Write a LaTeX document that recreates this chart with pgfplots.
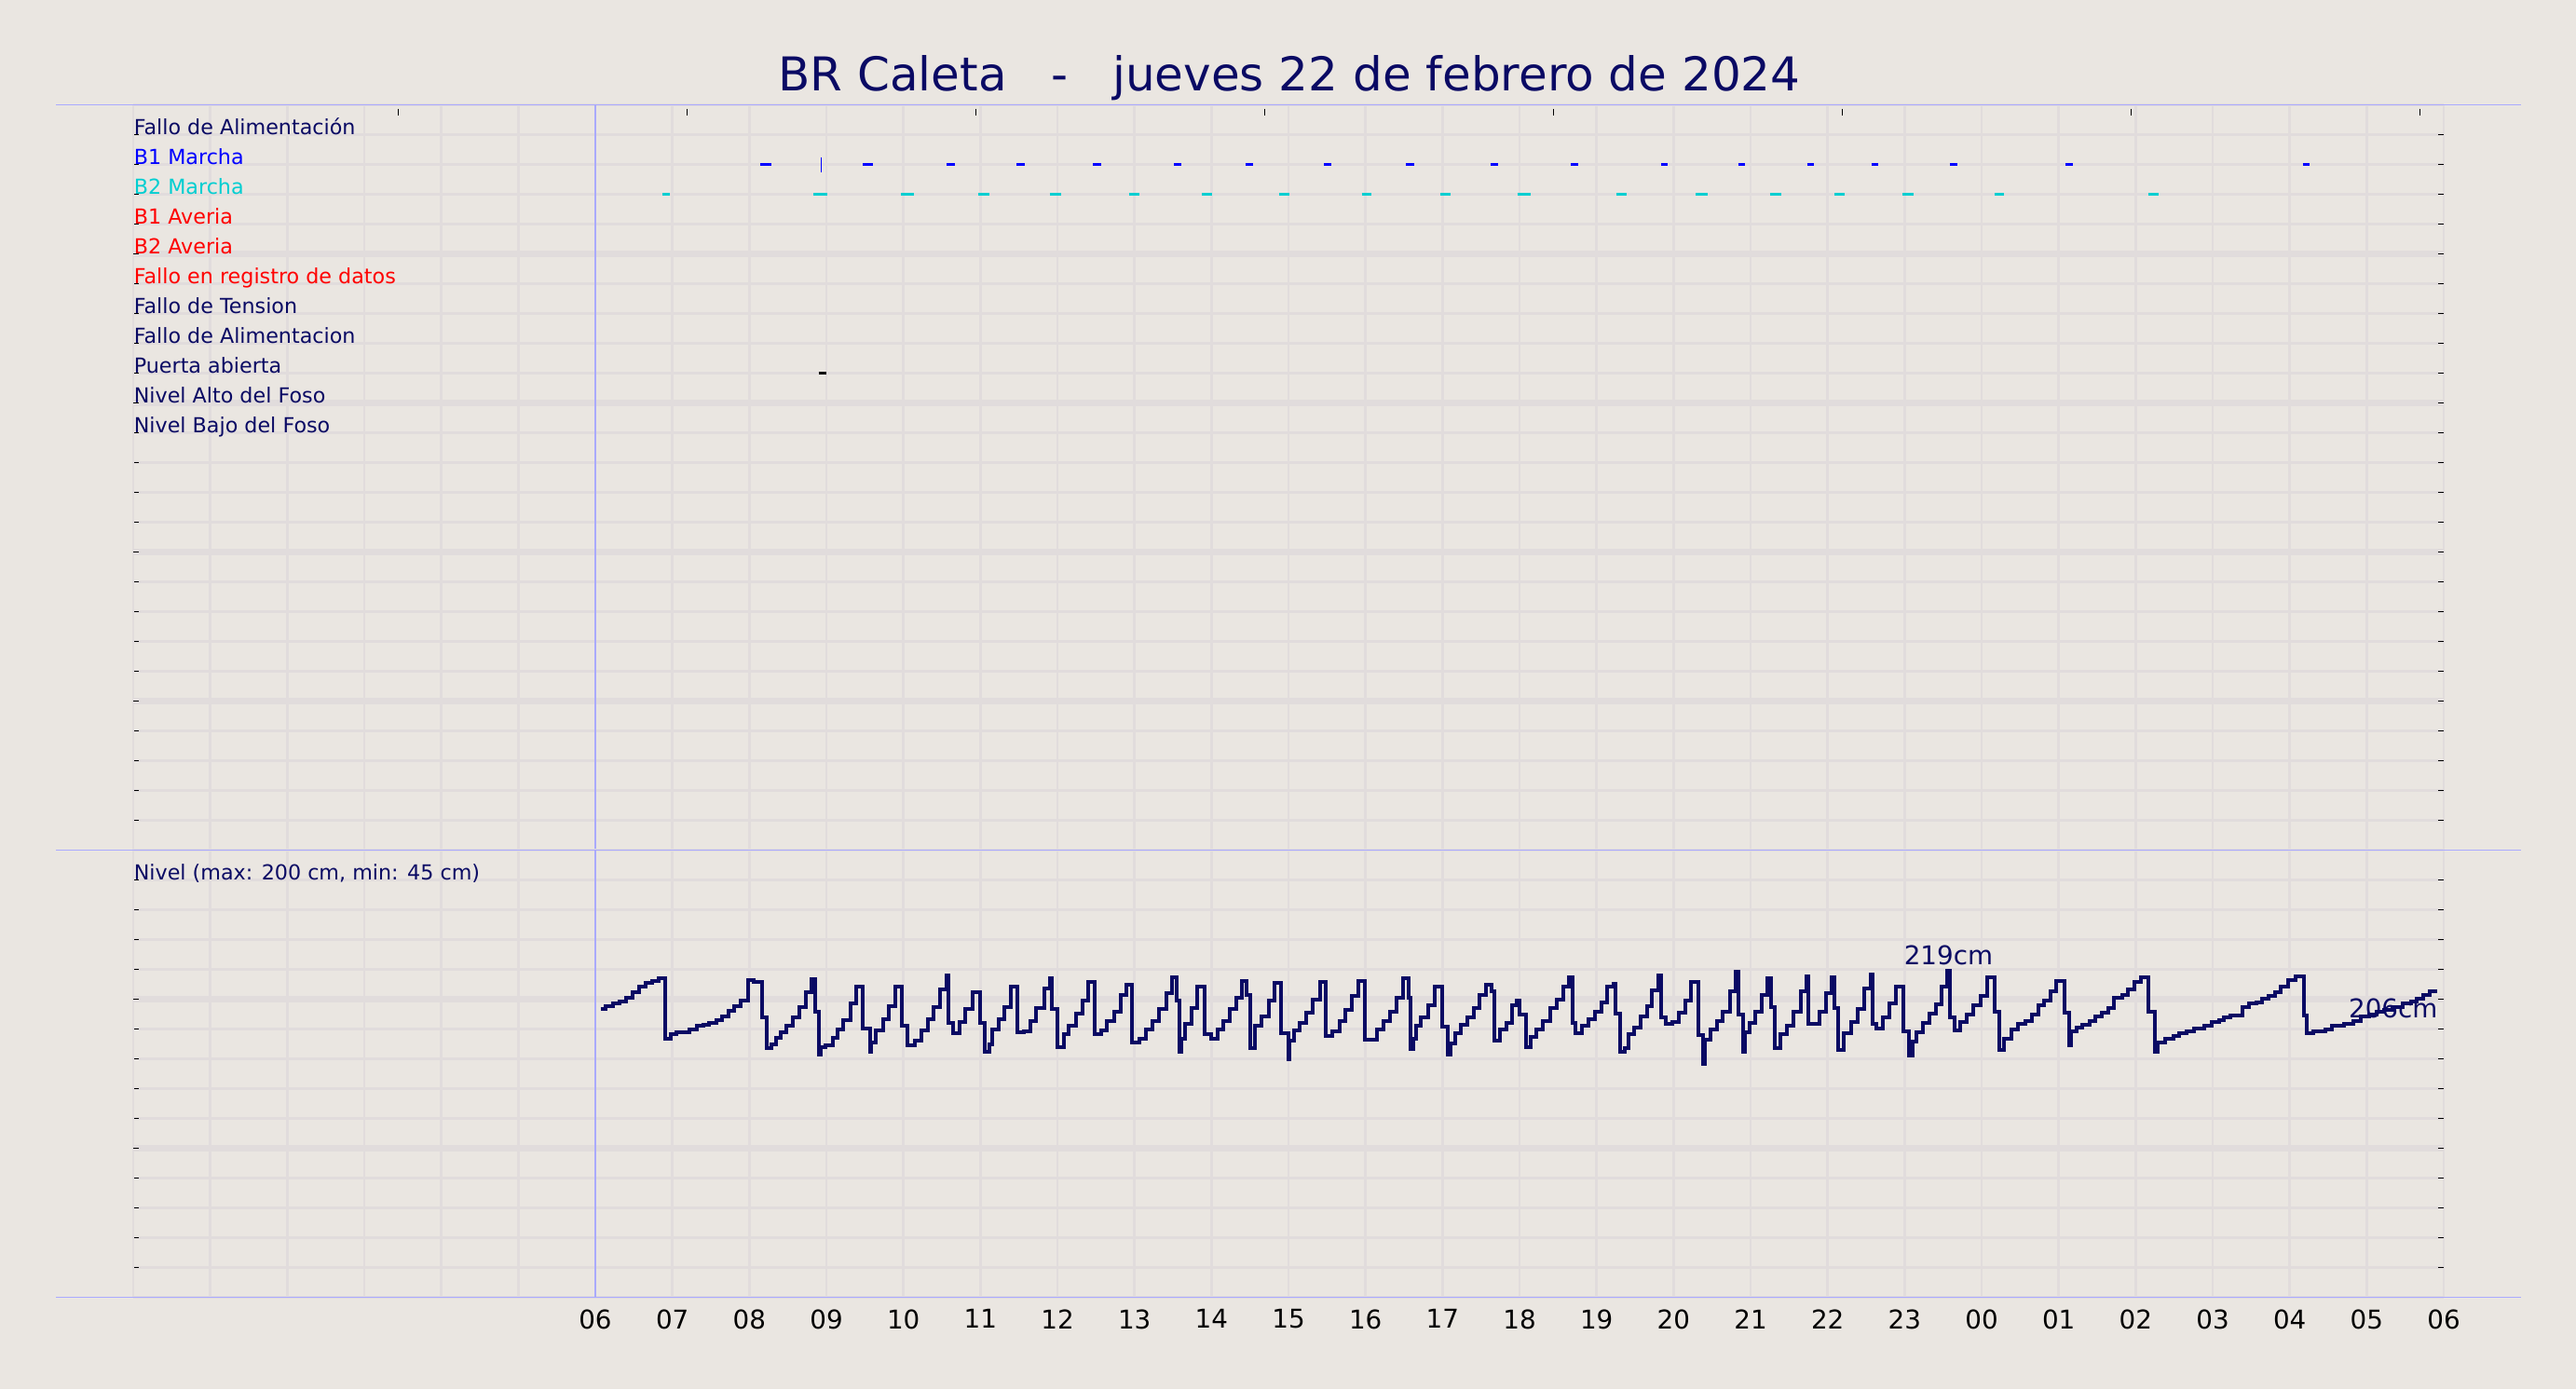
\documentclass[border=0pt]{standalone}
\usepackage{fontspec}
\setmainfont{DejaVu Sans}
\usepackage{pgfplots}
\pgfplotsset{compat=1.18}
\definecolor{bgc}{RGB}{234,230,225}
\definecolor{gridc}{RGB}{225,220,220}
\definecolor{navyc}{RGB}{10,10,100}
\definecolor{bluec}{RGB}{0,0,255}
\definecolor{cyanc}{RGB}{0,206,209}
\definecolor{redc}{RGB}{255,0,0}
\definecolor{bluel}{RGB}{170,170,255}
\newcommand{\tickf}{\fontsize{6.94pt}{8pt}\selectfont}
\newcommand{\labf}{\fontsize{5.56pt}{6.5pt}\selectfont}
\begin{document}
\begin{tikzpicture}
\path[use as bounding box, fill=bgc] (0,0) rectangle (691.25pt,372.75pt);
\node[anchor=base, text=navyc, font=\fontsize{12.5pt}{15pt}\selectfont, inner sep=0pt] at (346pt,348.25pt) {BR Caleta\ \ \ -\ \ \ jueves 22 de febrero de 2024};

\pgfplotsset{common/.style={
  scale only axis, width=620pt, xmin=-6, xmax=24,
  axis line style={draw=none},
  tick align=inside, major tick length=1.4pt,
  xtick style={draw=none},
  ytick style={black, line width=0.35pt},
  grid=major, major grid style={gridc, line width=0.7pt},
  clip=false,
  xtick={0,...,24},
  extra x ticks={-6,-5,-4,-3,-2,-1}, extra x tick labels={},
  extra x tick style={grid=major},
  yticklabels={},
}}

% ---------------- top panel (events) ----------------
\begin{axis}[common, at={(35.75pt,144.625pt)}, anchor=south west, height=200pt,
  ymin=0, ymax=25, ytick={0,...,25}, xticklabels={},
  extra y ticks={5,10,15,20}, extra y tick labels={},
  extra y tick style={grid=major, major grid style={gridc, line width=1.7pt}}]

% B1 Marcha
\addplot[bluec, line width=0.75pt, unbounded coords=jump] coordinates {
(2.145,23) (2.284,23) (2.3,nan)
(3.472,23) (3.603,23) (3.7,nan)
(4.560,23) (4.668,23) (4.7,nan)
(5.471,23) (5.579,23) (5.6,nan)
(6.460,23) (6.570,23) (6.6,nan)
(7.515,23) (7.608,23) (7.7,nan)
(8.440,23) (8.540,23) (8.6,nan)
(9.460,23) (9.560,23) (9.6,nan)
(10.530,23) (10.630,23) (10.7,nan)
(11.620,23) (11.720,23) (11.8,nan)
(12.663,23) (12.756,23) (12.8,nan)
(13.836,23) (13.928,23) (13.95,nan)
(14.839,23) (14.932,23) (14.95,nan)
(15.734,23) (15.827,23) (15.9,nan)
(16.567,23) (16.660,23) (16.7,nan)
(17.586,23) (17.686,23) (17.7,nan)
(19.083,23) (19.183,23) (19.2,nan)
(22.170,23) (22.254,23)
};
\addplot[bluec, line width=0.3pt, only marks, mark=|, mark size=2pt] coordinates {(2.932,23)};

% B2 Marcha
\addplot[cyanc, line width=0.75pt, unbounded coords=jump] coordinates {
(0.872,22) (0.965,22) (1.0,nan)
(2.832,22) (3.010,22) (3.1,nan)
(3.966,22) (4.136,22) (4.2,nan)
(4.969,22) (5.116,22) (5.2,nan)
(5.903,22) (6.050,22) (6.1,nan)
(6.930,22) (7.070,22) (7.1,nan)
(7.880,22) (8.010,22) (8.1,nan)
(8.880,22) (9.010,22) (9.1,nan)
(9.950,22) (10.080,22) (10.1,nan)
(10.970,22) (11.100,22) (11.2,nan)
(11.970,22) (12.146,22) (12.2,nan)
(13.257,22) (13.388,22) (13.4,nan)
(14.291,22) (14.438,22) (14.5,nan)
(15.248,22) (15.394,22) (15.4,nan)
(16.089,22) (16.220,22) (16.3,nan)
(16.969,22) (17.115,22) (17.2,nan)
(18.165,22) (18.296,22) (18.3,nan)
(20.163,22) (20.294,22)
};

% Puerta abierta
\addplot[black, line width=0.75pt] coordinates {(2.90,16) (3.00,16)};

\pgfplotsinvokeforeach{-2.56,1.19,4.94,8.69,12.44,16.19,19.94,23.69}{
  \draw[black, line width=0.35pt] (axis cs:#1,25) ++(0pt,-1pt) -- ++(0pt,-1.8pt);
}

\node[anchor=base west, inner sep=0pt, text=navyc, font=\labf] at (axis cs:-6,24) {Fallo de Alimentación};
\node[anchor=base west, inner sep=0pt, text=bluec, font=\labf] at (axis cs:-6,23) {B1 Marcha};
\node[anchor=base west, inner sep=0pt, text=cyanc, font=\labf] at (axis cs:-6,22) {B2 Marcha};
\node[anchor=base west, inner sep=0pt, text=redc, font=\labf] at (axis cs:-6,21) {B1 Averia};
\node[anchor=base west, inner sep=0pt, text=redc, font=\labf] at (axis cs:-6,20) {B2 Averia};
\node[anchor=base west, inner sep=0pt, text=redc, font=\labf] at (axis cs:-6,19) {Fallo en registro de datos};
\node[anchor=base west, inner sep=0pt, text=navyc, font=\labf] at (axis cs:-6,18) {Fallo de Tension};
\node[anchor=base west, inner sep=0pt, text=navyc, font=\labf] at (axis cs:-6,17) {Fallo de Alimentacion};
\node[anchor=base west, inner sep=0pt, text=navyc, font=\labf] at (axis cs:-6,16) {Puerta abierta};
\node[anchor=base west, inner sep=0pt, text=navyc, font=\labf] at (axis cs:-6,15) {Nivel Alto del Foso};
\node[anchor=base west, inner sep=0pt, text=navyc, font=\labf] at (axis cs:-6,14) {Nivel Bajo del Foso};

\draw[bluel, line width=0.4pt] (axis cs:-7,25) -- (axis cs:25,25);
\draw[bluel, line width=0.4pt] (axis cs:0,0) -- (axis cs:0,25);
\end{axis}

% ---------------- bottom panel (level) ----------------
\begin{axis}[common, at={(35.75pt,24.625pt)}, anchor=south west, height=120pt,
  ymin=0, ymax=300, ytick={0,20,...,300},
  xticklabels={06,07,08,09,10,11,12,13,14,15,16,17,18,19,20,21,22,23,00,01,02,03,04,05,06},
  xticklabel style={font=\tickf, text=black, anchor=north, inner sep=0pt, yshift=-3.1pt},
  extra y ticks={100,200}, extra y tick labels={},
  extra y tick style={grid=major, major grid style={gridc, line width=1.7pt}}]

\addplot[const plot, navyc, line width=1pt] coordinates {
(0.068,193.2) (0.137,195.5) (0.230,196.9) (0.310,198.4) (0.399,201) (0.483,204.5)
(0.572,208.2) (0.652,210.7) (0.741,212) (0.822,213.8) (0.902,173.6) (0.975,176.7)
(1.055,178) (1.216,179.6) (1.317,182) (1.398,183) (1.478,184) (1.571,186.2)
(1.647,188.2) (1.728,192.4) (1.808,195.3) (1.889,199) (1.981,213) (2.062,211.8)
(2.163,188) (2.223,167.4) (2.284,170) (2.344,174.2) (2.404,178) (2.485,182.5)
(2.565,188) (2.646,194.8) (2.735,205) (2.807,213.4) (2.859,191.8) (2.908,163)
(2.928,168) (2.988,169) (3.089,173.8) (3.141,180) (3.222,186.2) (3.310,196.9)
(3.391,208.7) (3.472,180.4) (3.564,164.5) (3.584,171) (3.645,178.8) (3.733,186.6)
(3.814,195.5) (3.894,208.7) (3.975,182.5) (4.056,169) (4.148,172.2) (4.229,179)
(4.317,186.6) (4.390,194.8) (4.478,206.8) (4.559,215.9) (4.579,184) (4.640,177.3)
(4.732,184.5) (4.801,193.2) (4.901,205) (4.990,184) (5.062,165) (5.115,170)
(5.151,179.4) (5.232,186.6) (5.316,194.8) (5.393,208.7) (5.485,178) (5.566,178.4)
(5.646,185.6) (5.727,194.2) (5.828,207.2) (5.899,214) (5.927,193.2)
(6.000,168) (6.081,176.3) (6.141,182.5) (6.242,190.3) (6.331,199) (6.403,211.3)
(6.484,176.3) (6.565,178.8) (6.645,185.6) (6.738,191.8) (6.827,203.1) (6.895,210)
(6.968,171.1) (7.060,173.2) (7.149,180) (7.238,185.6) (7.319,193.2) (7.411,204.1)
(7.492,214.4) (7.544,199) (7.581,165) (7.613,173.2) (7.653,183.5) (7.742,193.8)
(7.815,208.2) (7.915,176.3) (7.996,173.6) (8.077,179.4) (8.157,185.6) (8.238,193.2)
(8.319,201) (8.399,212.4) (8.460,203.1) (8.508,167) (8.560,182) (8.653,188.7)
(8.742,199) (8.815,210.7) (8.903,177.3) (8.996,159.8) (9.016,172.2) (9.077,178.8)
(9.145,184.1) (9.234,191.1) (9.319,200) (9.407,211.3) (9.488,175.3) (9.569,178.4)
(9.661,185.6) (9.742,192.8) (9.823,202) (9.903,212) (9.992,172.6) (10.145,179.4)
(10.234,185.2) (10.323,191.8) (10.403,201) (10.484,214) (10.565,201) (10.589,166.4)
(10.617,173.2) (10.657,182.5) (10.718,187.6) (10.819,195.9) (10.899,208.7) (10.992,181.4)
(11.073,162.9) (11.101,170.1) (11.161,176.9) (11.242,182.9) (11.323,188) (11.403,193.8)
(11.484,203.1) (11.565,209.7) (11.637,205.2) (11.677,172.2) (11.746,179.8) (11.827,184.1)
(11.907,195.9) (11.968,199) (12.000,189.7) (12.081,168) (12.141,174.6) (12.222,180)
(12.302,185.6) (12.395,193.8) (12.484,199.4) (12.565,208.2) (12.637,214.4) (12.685,184.1)
(12.726,177.3) (12.806,182.5) (12.899,186.6) (12.980,191.8) (13.060,197.9) (13.141,208.2)
(13.222,210.3) (13.250,190.3) (13.310,164.5) (13.371,167) (13.411,176.3) (13.492,180.8)
(13.573,188.2) (13.653,195.3) (13.722,206.2) (13.802,215.9) (13.843,188) (13.895,183.5)
(13.988,184.5) (14.069,191.1) (14.149,199) (14.230,211.3) (14.319,175.9) (14.379,156.7)
(14.407,172.6) (14.480,179.4) (14.560,185.6) (14.641,191.8) (14.730,205.2) (14.802,218.6)
(14.843,189.7) (14.903,165) (14.923,178) (14.984,184) (15.065,191.8) (15.145,202.7)
(15.218,213.8) (15.266,194.8) (15.319,167.4) (15.387,176.7) (15.468,182.5) (15.560,191.8)
(15.649,205.2) (15.730,215.5) (15.750,183.5) (15.891,191.8) (15.980,204.1) (16.052,214.4)
(16.085,193.8) (16.141,166) (16.214,177.3) (16.306,185) (16.395,193.2) (16.476,207.2)
(16.556,216.5) (16.585,183.5) (16.637,180.4) (16.718,188) (16.798,196.9) (16.891,208.7)
(16.980,178.4) (17.060,161.9) (17.101,171.8) (17.149,178) (17.242,184.1) (17.323,190.3)
(17.403,196.3) (17.484,208.2) (17.552,219) (17.585,188) (17.645,179) (17.726,184.5)
(17.806,189.7) (17.895,196) (17.988,202.1) (18.069,214.4) (18.169,191.8) (18.230,166)
(18.290,173.2) (18.391,179.4) (18.472,183.5) (18.565,185.6) (18.653,189.7) (18.734,196)
(18.815,199) (18.895,205.2) (18.968,212.4) (19.077,190.7) (19.137,169) (19.157,178.4)
(19.238,180.8) (19.306,182.9) (19.399,185.6) (19.480,188.7) (19.560,191.1) (19.641,194.2)
(19.722,201) (19.823,202.7) (19.903,206.6) (19.984,211.8) (20.065,214.4) (20.165,191.8)
(20.246,165) (20.286,171.1) (20.379,173.2) (20.488,175.3) (20.569,177.3) (20.661,178.4)
(20.758,180.4) (20.891,182.5) (20.984,184.5) (21.085,186.2) (21.145,188) (21.226,189.3)
(21.387,194.8) (21.468,196.9) (21.565,197.7) (21.645,200.4) (21.726,202.1) (21.806,204.7)
(21.887,208.7) (21.980,213) (22.081,215.5) (22.181,189) (22.222,177.3) (22.302,178.4)
(22.464,180) (22.544,182.5) (22.706,183.5) (22.827,185.6) (22.927,188.2) (23.028,189.7)
(23.129,191.8) (23.230,192.8) (23.331,194.8) (23.472,196.9) (23.573,198.5) (23.653,200.6)
(23.734,203) (23.815,205.6) (23.915,205.6)
};

\node[anchor=base west, inner sep=0pt, text=navyc, font=\labf] at (axis cs:-6,280) {Nivel (max: 200 cm, min: 45 cm)};
\node[anchor=base, inner sep=0pt, text=navyc, font=\tickf] at (axis cs:17.57,223) {219cm};
\node[anchor=base east, inner sep=0pt, text=navyc, font=\tickf] at (axis cs:23.93,187.8) {206cm};

\draw[bluel, line width=0.4pt] (axis cs:-7,300) -- (axis cs:25,300);
\draw[bluel, line width=0.4pt] (axis cs:-7,0) -- (axis cs:25,0);
\draw[bluel, line width=0.4pt] (axis cs:0,0) -- (axis cs:0,300);
\end{axis}
\end{tikzpicture}
\end{document}
